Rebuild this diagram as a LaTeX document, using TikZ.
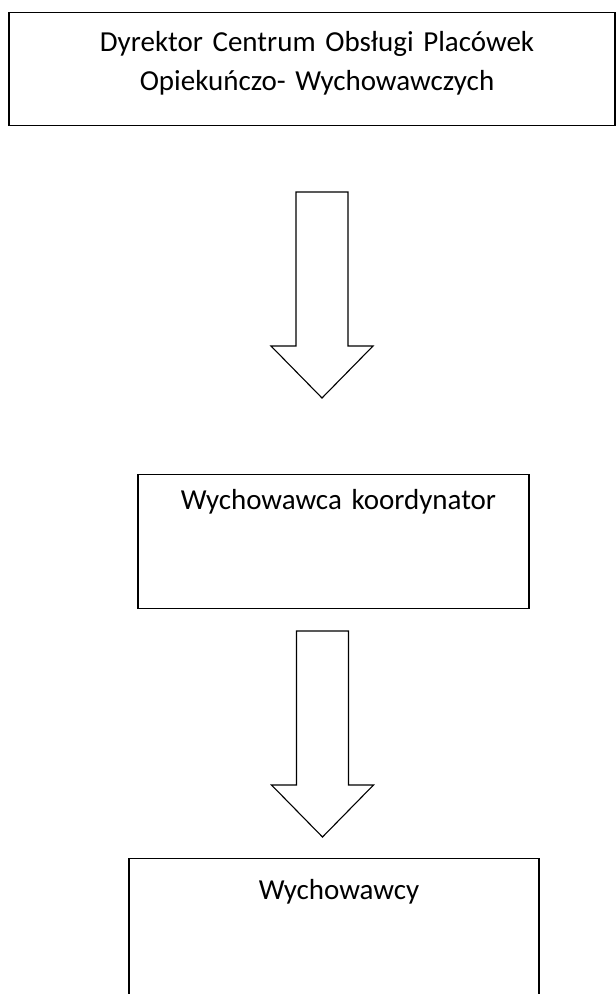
\documentclass[tikz,border=0pt]{standalone}
\usepackage{fontspec}
\setmainfont{Carlito}
\usetikzlibrary{positioning}

\tikzset{
  box/.style={draw, line width=1.1pt, anchor=north, align=center, inner xsep=0pt, text height=21pt},
  blockarrow/.pic={\draw[line width=1.1pt] (-26,0) -- (26,0) -- (26,-154) -- (51,-154) -- (0,-206) -- (-51,-154) -- (-26,-154) -- cycle;},
}

\begin{document}
\begin{tikzpicture}[x=1pt,y=1pt,font=\fontsize{29}{39}\selectfont]
		\clip (0,0) rectangle (616,-994);
		% create the boxes
		\node (dyrektor) [box, text width=606pt, inner ysep=18pt, text depth=56pt] at (312,-12) {\hspace*{10pt}Dyrektor Centrum Obsługi Placówek\\\hspace*{10pt}Opiekuńczo- Wychowawczych};
		\node (koordynator) [box, text width=391pt, inner ysep=14pt, text depth=85pt] at (333.5,-474) {\hspace*{10pt}Wychowawca koordynator};
		\node (wychowawcy) [box, text width=410pt, inner ysep=20pt, text depth=150pt] at (334,-858) {\hspace*{10pt}Wychowawcy};
		
		% block arrows between them
		\coordinate (a1) at (322,-192);
		\coordinate (a2) at (322.5,-631);
		\pic at (a1) {blockarrow};
		\pic at (a2) {blockarrow};
	\end{tikzpicture}
\end{document}
